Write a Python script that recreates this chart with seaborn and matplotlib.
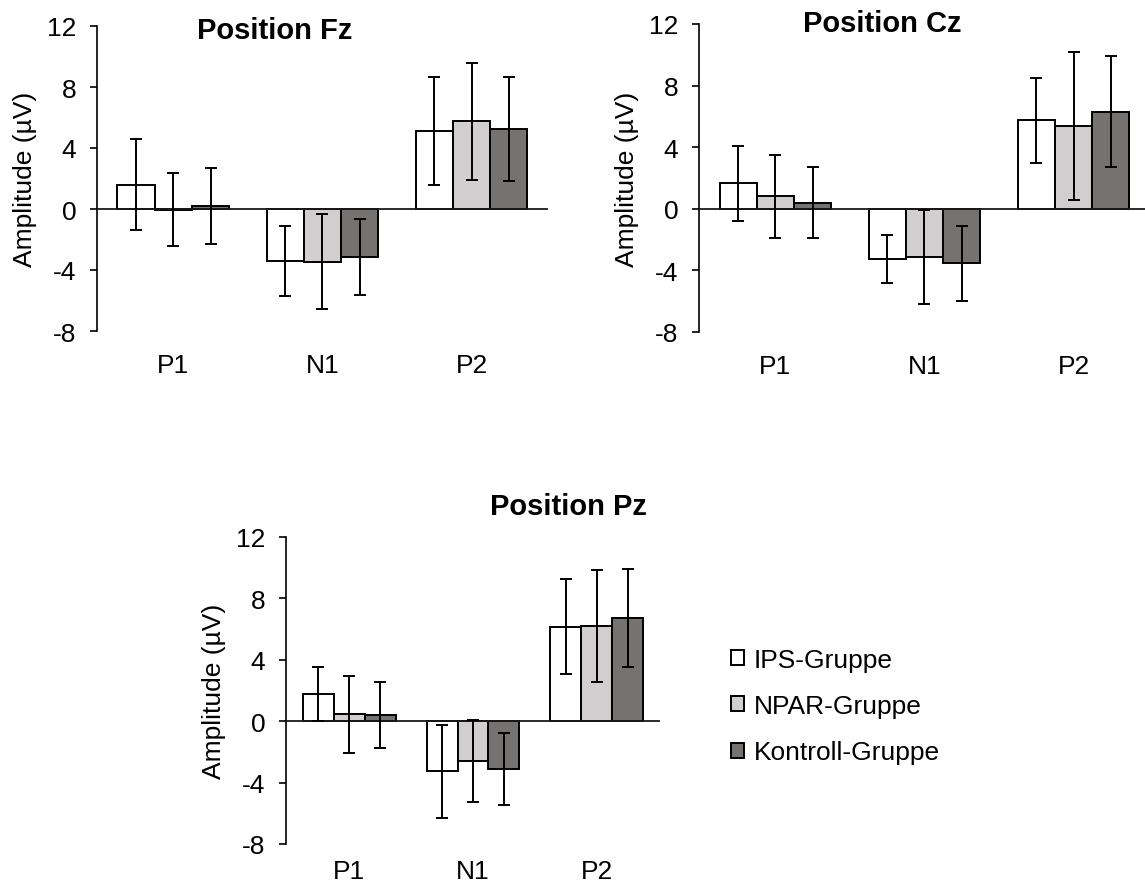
import matplotlib
matplotlib.use("Agg")
import matplotlib.pyplot as plt
import pandas as pd
import seaborn as sns

# ERP components and groups
komponenten = ["P1", "N1", "P2"]
gruppen = ["IPS-Gruppe", "NPAR-Gruppe", "Kontroll-Gruppe"]
farben = ["#FFFFFF", "#D0CECE", "#767171"]
y_ticks = [-8, -4, 0, 4, 8, 12]

# Mean amplitudes (µV), order P1, N1, P2
fz_ips = [1.6, -3.4, 5.1]
fz_npar = [-0.05, -3.45, 5.75]
fz_kontroll = [0.2, -3.15, 5.25]
# Standard deviations (µV)
fz_sd_ips = [3.0, 2.3, 3.55]
fz_sd_npar = [2.4, 3.1, 3.85]
fz_sd_kontroll = [2.5, 2.5, 3.4]

cz_ips = [1.65, -3.25, 5.75]
cz_npar = [0.8, -3.15, 5.4]
cz_kontroll = [0.4, -3.55, 6.3]
cz_sd_ips = [2.45, 1.55, 2.75]
cz_sd_npar = [2.7, 3.05, 4.8]
cz_sd_kontroll = [2.3, 2.45, 3.6]

pz_ips = [1.75, -3.25, 6.15]
pz_npar = [0.45, -2.6, 6.2]
pz_kontroll = [0.38, -3.1, 6.7]
pz_sd_ips = [1.75, 3.03, 3.1]
pz_sd_npar = [2.5, 2.67, 3.65]
pz_sd_kontroll = [2.15, 2.33, 3.2]

sns.set_style("ticks")
plt.rcParams["font.family"] = ["Liberation Sans", "DejaVu Sans"]
plt.rcParams["axes.unicode_minus"] = False
plt.rcParams["text.color"] = "black"
plt.rcParams["axes.labelcolor"] = "black"

FS = 19
W, H = 1145, 887
fig = plt.figure(figsize=(W / 100, H / 100), dpi=100)


def px_axes(left, top, right, bottom):
    return fig.add_axes([left / W, 1 - bottom / H, (right - left) / W, (bottom - top) / H])


def panel(ax, means, sds, xpad):
    rows = []
    for g, vals in zip(gruppen, means):
        for k, v in zip(komponenten, vals):
            rows.append({"Komponente": k, "Gruppe": g, "Amplitude": v})
    df = pd.DataFrame(rows)
    sns.barplot(data=df, x="Komponente", y="Amplitude", hue="Gruppe",
                order=komponenten, hue_order=gruppen, palette=farben,
                edgecolor="black", linewidth=1.4, width=0.75,
                errorbar=None, legend=False, ax=ax)
    bars = list(ax.containers)
    for cont, sd in zip(bars, sds):
        xs = [p.get_x() + p.get_width() / 2 for p in cont.patches]
        ax.errorbar(xs, cont.datavalues, yerr=sd, fmt="none", ecolor="black",
                    elinewidth=1.4, capsize=4.5, capthick=1.4, zorder=5)
    ax.axhline(0, color="#1a1a1a", lw=1.3, zorder=4)
    ax.set_ylim(-8, 12)
    ax.set_yticks(y_ticks)
    ax.set_xlabel("")
    ax.set_ylabel("Amplitude (µV)", fontsize=FS, labelpad=7, color="black")
    for s in ["top", "right", "bottom"]:
        ax.spines[s].set_visible(False)
    ax.spines["left"].set_linewidth(1.2)
    ax.spines["left"].set_color("black")
    ax.tick_params(axis="y", length=5, width=1.2, direction="out",
                   pad=10, labelsize=FS, colors="black")
    ax.tick_params(axis="x", length=0, pad=xpad, labelsize=FS, colors="black")
    ax.set_facecolor("white")
    return bars


ax_fz = px_axes(97, 27, 548, 332)
panel(ax_fz, [fz_ips, fz_npar, fz_kontroll], [fz_sd_ips, fz_sd_npar, fz_sd_kontroll], 16)
ax_cz = px_axes(699, 25, 1150, 333)
panel(ax_cz, [cz_ips, cz_npar, cz_kontroll], [cz_sd_ips, cz_sd_npar, cz_sd_kontroll], 16)
ax_pz = px_axes(286, 538, 660, 845)
pz_bars = panel(ax_pz, [pz_ips, pz_npar, pz_kontroll],
                [pz_sd_ips, pz_sd_npar, pz_sd_kontroll], 11)

titel = dict(fontsize=21, fontweight="bold", ha="center", va="baseline", color="black")
fig.text(275 / W, 1 - 39 / H, "Position Fz", **titel)
fig.text(882 / W, 1 - 32 / H, "Position Cz", **titel)
fig.text(568 / W, 1 - 515 / H, "Position Pz", **titel)

handles = [c.patches[0] for c in pz_bars]
fig.legend(handles, gruppen, loc="center left",
           bbox_to_anchor=(731 / W, 1 - 707 / H), frameon=False,
           fontsize=FS, handlelength=0.5, handleheight=0.5,
           handletextpad=0.35, labelspacing=0.85, borderpad=0, borderaxespad=0)

fig.savefig("out.png", dpi=100, facecolor="white")
